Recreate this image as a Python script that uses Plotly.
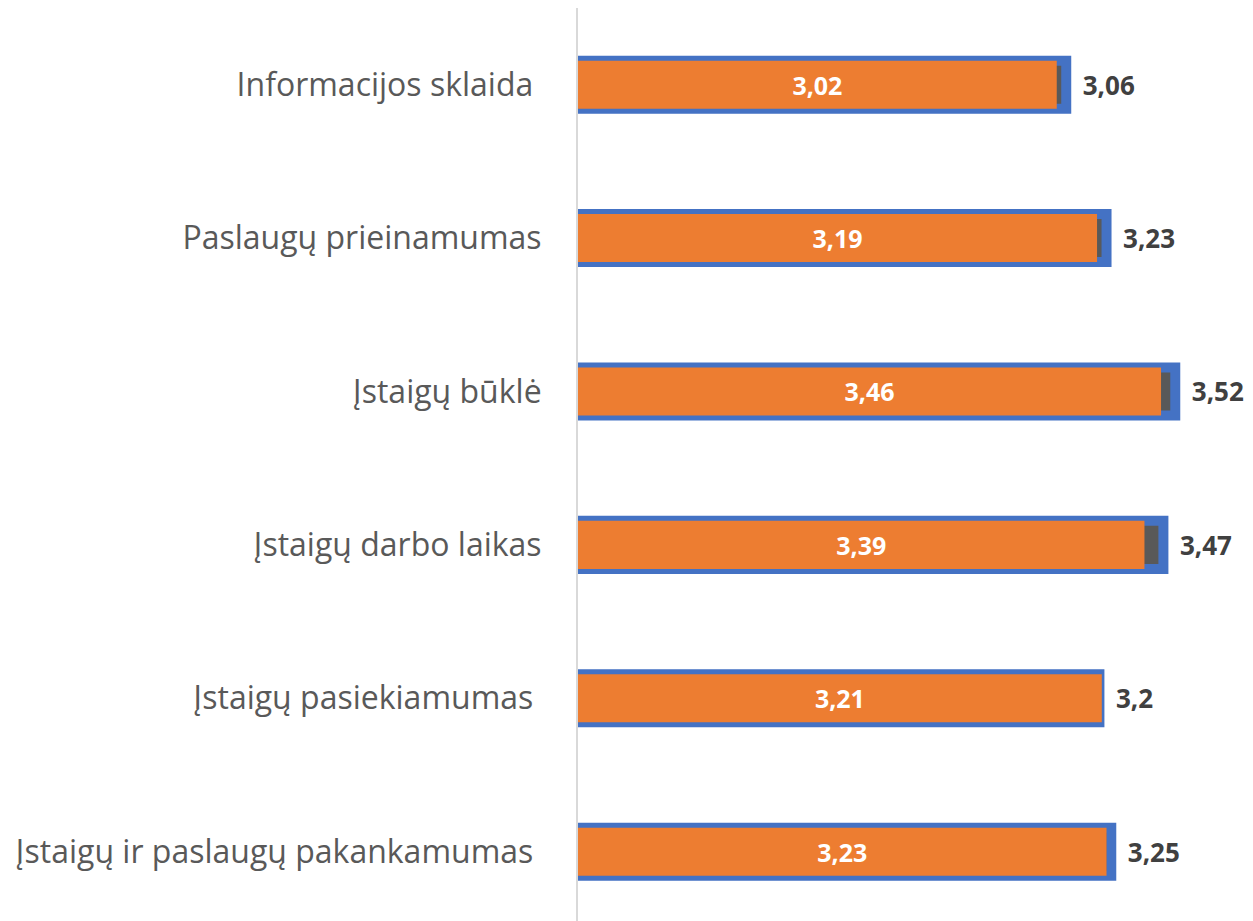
import plotly.graph_objects as go

categories = [
    "Informacijos sklaida\u00a0",
    "Paslaugų prieinamumas",
    "Įstaigų būklė",
    "Įstaigų darbo laikas",
    "Įstaigų pasiekiamumas\u00a0",
    "Įstaigų ir paslaugų pakankamumas\u00a0",
]
outer_values = [3.06, 3.23, 3.52, 3.47, 3.20, 3.25]   # blue-framed bars
inner_values = [3.02, 3.19, 3.46, 3.39, 3.21, 3.23]   # orange bars
axis_start = 1

def fmt(v):
    s = f"{v:.2f}".rstrip("0").rstrip(".")
    return s.replace(".", ",")

fig = go.Figure()
fig.add_trace(go.Bar(
    y=categories,
    x=[v - axis_start for v in outer_values],
    base=axis_start,
    orientation="h",
    width=0.313,
    marker=dict(color="#595959", line=dict(color="#4472C4", width=10)),
    text=["\u00a0\u00a0" + fmt(v) for v in outer_values],
    textposition="outside",
    textfont=dict(family="Open Sans", size=26, color="#404040", weight="bold"),
    cliponaxis=False,
    hoverinfo="skip",
))
fig.add_trace(go.Bar(
    y=categories,
    x=[v - axis_start for v in inner_values],
    base=axis_start,
    orientation="h",
    width=0.313,
    marker=dict(color="#ED7D31", line=dict(width=0)),
    text=[fmt(v) for v in inner_values],
    textposition="inside",
    insidetextanchor="middle",
    textangle=0,
    textfont=dict(family="Open Sans", size=25, color="#FFFFFF", weight="bold"),
    hoverinfo="skip",
))

fig.update_layout(
    width=1245,
    height=913,
    barmode="overlay",
    showlegend=False,
    plot_bgcolor="#FFFFFF",
    paper_bgcolor="#FFFFFF",
    margin=dict(l=570, r=0, t=0, b=0, autoexpand=False),
    uniformtext=dict(mode=False),
)
fig.update_xaxes(
    range=[axis_start, 3.848],
    showgrid=False,
    zeroline=False,
    showticklabels=False,
    showline=False,
)
fig.update_yaxes(
    range=[5.452, -0.5],
    showgrid=False,
    zeroline=False,
    showline=True,
    linecolor="#D9D9D9",
    linewidth=2,
    ticks="",
    ticklabelstandoff=28,
    tickfont=dict(family="Open Sans", size=32, color="#595959"),
    layer="below traces",
)

fig.write_html("out.html")
